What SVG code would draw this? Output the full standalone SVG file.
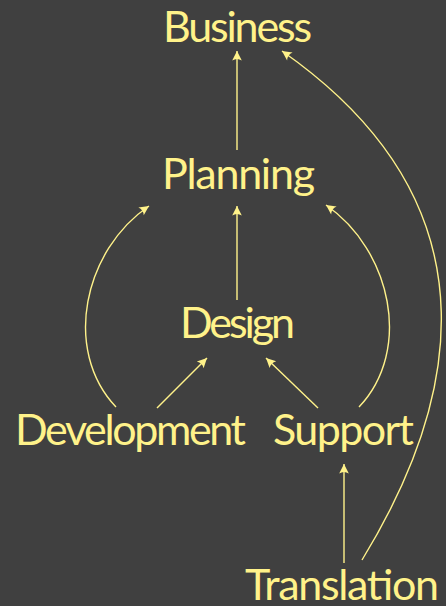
<svg xmlns="http://www.w3.org/2000/svg" width="446" height="606" viewBox="0 0 446 606">
<defs>
<style>
.bg{fill:#404040}
.lbl{font-family:"Lato","Liberation Sans",sans-serif;font-size:43px;fill:#FFF28A}
.edge{fill:none;stroke:#FFF28A;stroke-width:1.4;marker-end:url(#ah)}
</style>
<marker id="ah" markerUnits="userSpaceOnUse" markerWidth="12" markerHeight="12" viewBox="-9 -5 10 10" refX="0" refY="0" orient="auto">
<path d="M0,0 L-8,-4 Q-5.5,0 -8,4 Z" fill="#FFF28A"/>
</marker>
</defs>
<rect class="bg" x="0" y="0" width="446" height="606"/>
<g id="connectors">
<path class="edge" d="M237,150 L237,51"/>
<path class="edge" d="M237,300 L237,206"/>
<path class="edge" d="M157,408 L207,358"/>
<path class="edge" d="M318,408 L266,358"/>
<path class="edge" d="M116,407 C62,350 84,250 149,206"/>
<path class="edge" d="M359,407 C413,350 391,250 326,205"/>
<path class="edge" d="M344,563 L344,464"/>
<path class="edge" d="M362,560 C450,416 512,212 282,51"/>
</g>
<g id="business"><text class="lbl" x="163" y="42" textLength="149">Business</text></g>
<g id="planning"><text class="lbl" x="162" y="189" textLength="153">Planning</text></g>
<g id="design"><text class="lbl" x="180" y="338" textLength="115">Design</text></g>
<g id="development"><text class="lbl" x="15" y="445" textLength="231">Development</text></g>
<g id="support"><text class="lbl" x="273" y="445" textLength="141">Support</text></g>
<g id="translation"><text class="lbl" x="245" y="600" textLength="194">Translation</text></g>
</svg>
